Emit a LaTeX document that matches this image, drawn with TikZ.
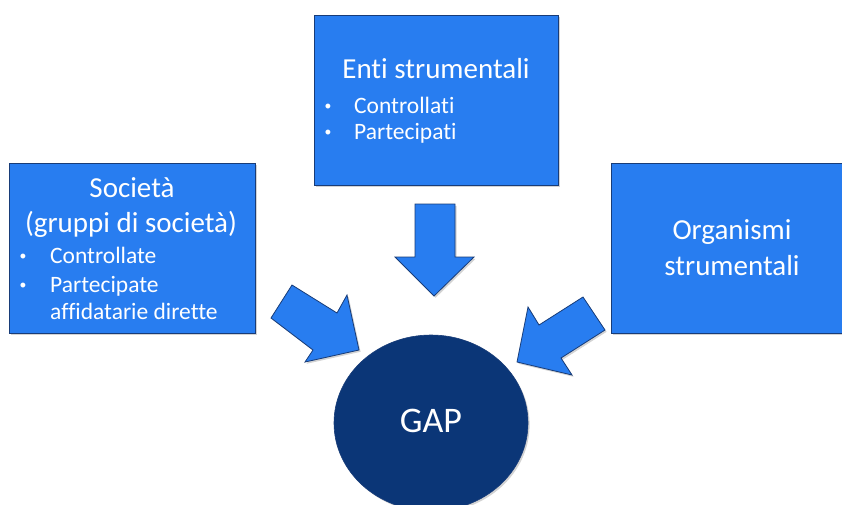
\documentclass[tikz,border=0pt]{standalone}
\usepackage{fontspec}
\setmainfont[Ligatures=NoCommon]{Carlito}
\newfontfamily\bulfont{Liberation Sans}
\usetikzlibrary{shadows,shapes.geometric}
\definecolor{boxblue}{RGB}{40,125,240}
\definecolor{edgeblue}{RGB}{24,60,120}
\definecolor{navy}{RGB}{11,54,119}
\tikzset{
  sh/.style={drop shadow={opacity=0.35,shadow xshift=1.6pt,shadow yshift=-1.8pt}},
  bluebox/.style={draw=edgeblue,line width=0.8pt,fill=boxblue,sh,rectangle,inner sep=0pt},
  blockarrow/.style={draw=edgeblue,line width=0.8pt,fill=boxblue,line join=miter,sh},
  ttl/.style={text=white,anchor=base,font=\fontsize{29}{32}\selectfont,inner sep=0pt},
  itm/.style={text=white,anchor=base west,font=\fontsize{23.5}{26}\selectfont,inner sep=0pt},
  bul/.style={text=white,anchor=base,font=\bulfont\fontsize{18}{20}\selectfont,inner sep=0pt},
}
\begin{document}
\begin{tikzpicture}[x=1pt,y=-1pt]
\useasboundingbox (0,0) rectangle (842,504);
% boxes
\node[bluebox,minimum width=244pt,minimum height=170pt] (enti) at (436,100) {};
\node[bluebox,minimum width=246pt,minimum height=170pt] (soc) at (132,248) {};
\node[bluebox,minimum width=240pt,minimum height=170pt] (org) at (731,248) {};
% ellipse
\node[draw=edgeblue,line width=0.6pt,fill=navy,ellipse,sh,minimum width=194pt,minimum height=176pt,inner sep=0pt] (gap) at (431,423) {};
\node[text=white,anchor=base,font=\fontsize{36}{40}\selectfont,inner sep=0pt] (gapt) at (431,432) {GAP};
% block arrows
\draw[blockarrow] (415,204) -- (455,204) -- (455,257) -- (474,257) -- (434,296) -- (395,257) -- (415,257) -- cycle;
\draw[blockarrow] (292,285) -- (337,313) -- (347,295) -- (359,350) -- (305,362) -- (313,350) -- (271,318) -- cycle;
\draw[blockarrow] (583,297) -- (539,325) -- (528,307) -- (517,362) -- (572,375) -- (561,358) -- (605,330) -- cycle;
% texts top
\node[ttl] (t1) at (436,78) {Enti strumentali};
\node[bul] (b1) at (328,112) {•};
\node[itm] (i1) at (354,113) {Controllati};
\node[bul] (b2) at (328,138) {•};
\node[itm] (i2) at (354,139) {Partecipati};
% left
\node[ttl] (s1) at (132,197) {Società};
\node[ttl] (s2) at (131,232) {(gruppi di società)};
\node[bul] (b3) at (23,262) {•};
\node[itm] (i3) at (50,263) {Controllate};
\node[bul] (b4) at (23,291) {•};
\node[itm] (i4) at (50,292) {Partecipate};
\node[itm] (i5) at (50,319) {affidatarie dirette};
% right
\node[ttl] (o1) at (732,239) {Organismi};
\node[ttl] (o2) at (732,275) {strumentali};
\end{tikzpicture}
\end{document}
